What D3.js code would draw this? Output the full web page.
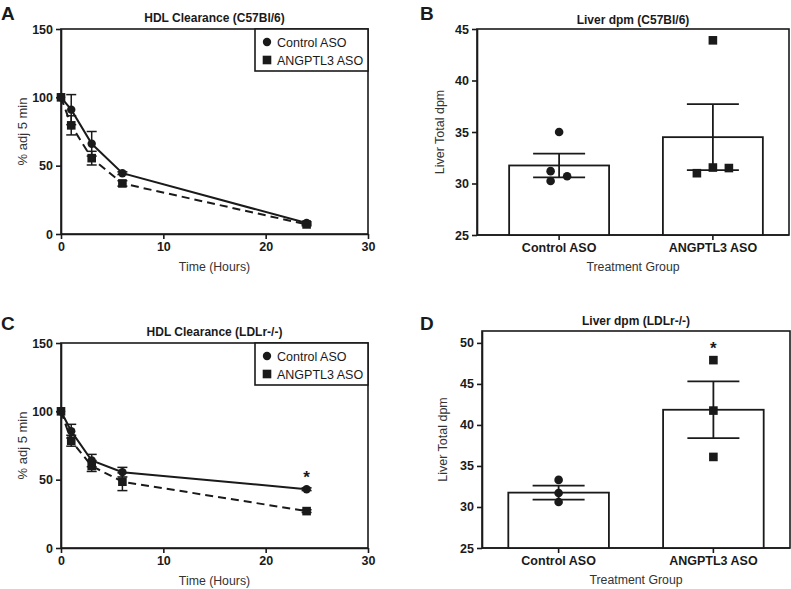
<!DOCTYPE html>
<html>
<head>
<meta charset="utf-8">
<script src="https://cdn.jsdelivr.net/npm/d3@7"></script>
<style>
  body { margin: 0; background: #fff; }
  svg { font-family: "Liberation Sans", Arial, sans-serif; }
  .tick text { font-weight: bold; font-size: 12.5px; fill: #1a1a1a; }
  .tick line, .domain { stroke: #1a1a1a; stroke-width: 1.6; }
</style>
</head>
<body>
<svg id="chart" width="791" height="589"></svg>
<script>
// HDL clearance time course (% of 5 min value)
const hours = [0, 1, 3, 6, 24];
const aControl = [100, 91, 66, 44.5, 8];
const aControlErr = [0, 11, 9, 1, 1];
const aAngptl3 = [100, 79.5, 55.5, 37, 7];
const aAngptl3Err = [0, 7, 5, 2, 1];
const cControl = [100, 85.5, 64, 55.5, 43];
const cControlErr = [0, 5, 4.5, 3.5, 1];
const cAngptl3 = [100, 78.5, 60, 48.5, 27];
const cAngptl3Err = [0, 4, 4, 6.5, 1];
const timeTicks = [0, 10, 20, 30];
const pctTicks = [0, 50, 100, 150];

// liver dpm
const groups = ["Control ASO", "ANGPTL3 ASO"];
const bControlPts = [35.0, 31.2, 30.25, 30.7];
const bAngptl3Pts = [43.9, 31.0, 31.55, 31.5];
const bMeans = [31.75, 34.5];
const bSem = [1.15, 3.2];
const bTicks = [25, 30, 35, 40, 45];
const dControlPts = [33.3, 31.7, 30.6];
const dAngptl3Pts = [47.9, 41.75, 36.1];
const dMeans = [31.75, 41.85];
const dSem = [0.85, 3.45];
const dTicks = [25, 30, 35, 40, 45, 50];

const ink = "#1a1a1a";
const svg = d3.select("#chart");

function panelLetter(txt, x, y) {
  svg.append("text").attr("x", x).attr("y", y).text(txt)
    .attr("font-size", 19).attr("font-weight", "bold").attr("fill", ink);
}

function frame(g, w, h) {
  g.append("rect").attr("width", w).attr("height", h)
    .attr("fill", "none").attr("stroke", ink).attr("stroke-width", 1.6);
}

function linePanel(opt) {
  const g = svg.append("g").attr("transform", `translate(${opt.left},${opt.top})`);
  const w = opt.w, h = opt.h;
  const x = d3.scaleLinear().domain([0, 30]).range([0, w]);
  const y = d3.scaleLinear().domain([0, 150]).range([h, 0]);

  frame(g, w, h);
  g.append("g").attr("transform", `translate(0,${h})`)
    .call(d3.axisBottom(x).tickValues(timeTicks).tickSize(5).tickPadding(3).tickSizeOuter(0));
  g.append("g").call(d3.axisLeft(y).tickValues(pctTicks).tickSize(5).tickPadding(3).tickSizeOuter(0));

  g.append("text").attr("x", w / 2).attr("y", -7).attr("text-anchor", "middle")
    .attr("font-size", 12).attr("font-weight", "bold").attr("fill", ink).text(opt.title);
  g.append("text").attr("x", w / 2).attr("y", h + 37).attr("text-anchor", "middle")
    .attr("font-size", 12.3).attr("fill", "#333").text("Time (Hours)");
  g.append("text").attr("transform", `translate(-34,${h / 2}) rotate(-90)`)
    .attr("text-anchor", "middle").attr("font-size", 13).attr("fill", "#333").text("% adj 5 min");

  const series = [
    { vals: opt.ctrl, err: opt.ctrlErr, dash: null, shape: "circle" },
    { vals: opt.ang, err: opt.angErr, dash: "8,5", shape: "square" }
  ];
  const line = d3.line().x((d, i) => x(hours[i])).y(d => y(d));

  series.forEach(s => {
    const eb = g.append("g");
    s.vals.forEach((v, i) => {
      if (!s.err[i]) return;
      const cx = x(hours[i]);
      eb.append("line").attr("x1", cx).attr("x2", cx)
        .attr("y1", y(v - s.err[i])).attr("y2", y(v + s.err[i]));
      [v - s.err[i], v + s.err[i]].forEach(e => {
        eb.append("line").attr("x1", cx - 5).attr("x2", cx + 5).attr("y1", y(e)).attr("y2", y(e));
      });
    });
    eb.selectAll("line").attr("stroke", ink).attr("stroke-width", 1.5);

    g.append("path").datum(s.vals).attr("d", line).attr("fill", "none")
      .attr("stroke", ink).attr("stroke-width", 2).attr("stroke-dasharray", s.dash);
  });
  series.forEach(s => {
    if (s.shape === "circle") {
      g.selectAll(null).data(s.vals).join("circle")
        .attr("cx", (d, i) => x(hours[i])).attr("cy", d => y(d)).attr("r", 4.2).attr("fill", ink);
    } else {
      g.selectAll(null).data(s.vals).join("rect")
        .attr("x", (d, i) => x(hours[i]) - 4.3).attr("y", d => y(d) - 4.3)
        .attr("width", 8.6).attr("height", 8.6).attr("fill", ink);
    }
  });

  // legend
  const lg = g.append("g").attr("transform", `translate(${w - 113},0)`);
  lg.append("rect").attr("width", 113).attr("height", 42).attr("fill", "#fff")
    .attr("stroke", ink).attr("stroke-width", 1.6);
  lg.append("circle").attr("cx", 12).attr("cy", 13).attr("r", 4.2).attr("fill", ink);
  lg.append("rect").attr("x", 7.7).attr("y", 26.7).attr("width", 8.6).attr("height", 8.6).attr("fill", ink);
  lg.selectAll(null).data(groups).join("text")
    .attr("x", 22).attr("y", (d, i) => 17.5 + i * 18).attr("font-size", 12.5).attr("fill", ink).text(d => d);

  if (opt.star != null) {
    g.append("text").attr("x", x(hours[opt.star])).attr("y", y(opt.ctrl[opt.star]) - 6)
      .attr("text-anchor", "middle").attr("font-size", 17).attr("font-weight", "bold")
      .attr("fill", ink).text("*");
  }
}

function barPanel(opt) {
  const g = svg.append("g").attr("transform", `translate(${opt.left},${opt.top})`);
  const w = opt.w, h = opt.h;
  const x = d3.scaleBand().domain(groups).range([opt.bandStart, w]).paddingInner(0.35).paddingOuter(0.17);
  const y = d3.scaleLinear().domain(opt.yDomain).range([h, 0]);
  const bw = x.bandwidth();

  frame(g, w, h);
  g.append("g").attr("transform", `translate(0,${h})`)
    .call(d3.axisBottom(x).tickSize(5).tickPadding(3).tickSizeOuter(0))
    .select(".domain").attr("d", `M0,0H${w}`);
  g.append("g").call(d3.axisLeft(y).tickValues(opt.ticks).tickSize(5).tickPadding(3).tickSizeOuter(0));

  g.append("text").attr("x", w / 2).attr("y", opt.titleY).attr("text-anchor", "middle")
    .attr("font-size", 12).attr("font-weight", "bold").attr("fill", ink).text(opt.title);
  g.append("text").attr("x", w / 2).attr("y", h + 36).attr("text-anchor", "middle")
    .attr("font-size", 12.3).attr("fill", "#333").text("Treatment Group");
  g.append("text").attr("transform", `translate(${opt.ylabX},${h / 2}) rotate(-90)`)
    .attr("text-anchor", "middle").attr("font-size", 12.5).attr("fill", "#333").text("Liver Total dpm");

  g.selectAll(null).data(groups).join("rect")
    .attr("x", d => x(d)).attr("y", (d, i) => y(opt.means[i]))
    .attr("width", bw).attr("height", (d, i) => h - y(opt.means[i]))
    .attr("fill", "#fff").attr("stroke", ink).attr("stroke-width", 1.8);

  const pts = [opt.ctrlPts, opt.angPts];
  pts.forEach((arr, gi) => {
    const cx = x(groups[gi]) + bw / 2;
    arr.forEach((v, j) => {
      const dx = opt.jitter[gi][j];
      if (gi === 0) {
        g.append("circle").attr("cx", cx + dx).attr("cy", y(v)).attr("r", 4.3).attr("fill", ink);
      } else {
        g.append("rect").attr("x", cx + dx - 4.3).attr("y", y(v) - 4.3)
          .attr("width", 8.6).attr("height", 8.6).attr("fill", ink);
      }
    });
  });

  const eb = g.append("g");
  groups.forEach((grp, i) => {
    const cx = x(grp) + bw / 2;
    const lo = y(opt.means[i] - opt.sem[i]), hi = y(opt.means[i] + opt.sem[i]);
    eb.append("line").attr("x1", cx).attr("x2", cx).attr("y1", lo).attr("y2", hi);
    eb.append("line").attr("x1", cx - 26).attr("x2", cx + 26).attr("y1", lo).attr("y2", lo);
    eb.append("line").attr("x1", cx - 26).attr("x2", cx + 26).attr("y1", hi).attr("y2", hi);
  });
  eb.selectAll("line").attr("stroke", ink).attr("stroke-width", 1.8);

  if (opt.star) {
    const cx = x(groups[1]) + bw / 2;
    g.append("text").attr("x", cx).attr("y", y(d3.max(opt.angPts)) - 6)
      .attr("text-anchor", "middle").attr("font-size", 17).attr("font-weight", "bold")
      .attr("fill", ink).text("*");
  }
}

panelLetter("A", 1, 20);
panelLetter("B", 420, 20);
panelLetter("C", 1, 330);
panelLetter("D", 420, 330);

linePanel({ left: 61, top: 29, w: 307, h: 205, title: "HDL Clearance (C57Bl/6)",
  ctrl: aControl, ctrlErr: aControlErr, ang: aAngptl3, angErr: aAngptl3Err, star: null });
linePanel({ left: 61, top: 343, w: 307, h: 205, title: "HDL Clearance (LDLr-/-)",
  ctrl: cControl, ctrlErr: cControlErr, ang: cAngptl3, angErr: cAngptl3Err, star: 4 });

barPanel({ left: 477, top: 29, w: 312, h: 206, yDomain: [25, 45], ticks: bTicks, bandStart: 6,
  title: "Liver dpm (C57Bl/6)", titleY: -5.5, ylabX: -33,
  ctrlPts: bControlPts, angPts: bAngptl3Pts, means: bMeans, sem: bSem,
  jitter: [[0, -8.5, -8.5, 8], [0, -16, 0, 16]], star: false });
barPanel({ left: 482, top: 331, w: 308, h: 217, yDomain: [25, 51.45], ticks: dTicks, bandStart: 0,
  title: "Liver dpm (LDLr-/-)", titleY: -6, ylabX: -35,
  ctrlPts: dControlPts, angPts: dAngptl3Pts, means: dMeans, sem: dSem,
  jitter: [[0, 0, 0], [0, 0, 0]], star: true });
</script>
</body>
</html>
